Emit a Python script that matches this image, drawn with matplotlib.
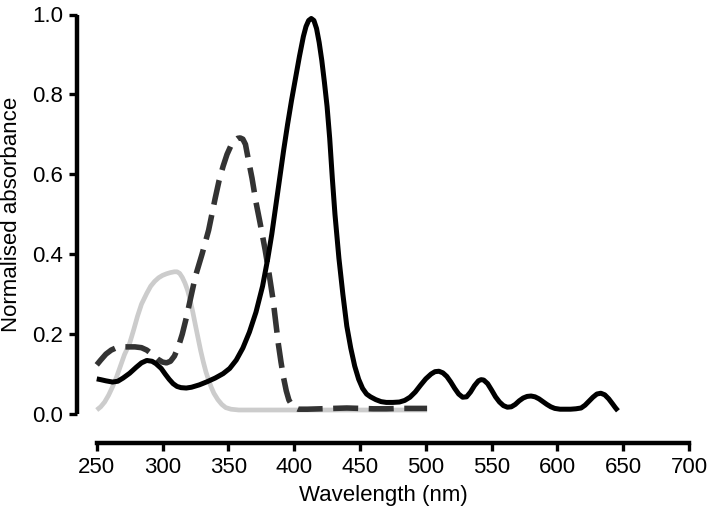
import numpy as np
import matplotlib
matplotlib.use("Agg")
from matplotlib import pyplot as plt

plt.rcParams['font.family'] = ['Liberation Sans', 'DejaVu Sans']

wl_black = [250, 253, 257, 262, 266, 270, 275, 280, 284, 288, 292, 295, 299, 302, 305,
            308, 311, 314, 318, 322, 328, 334, 340, 346, 351, 356, 361, 366, 371, 376,
            380, 383, 386, 389, 392, 395, 398, 401, 404, 407, 409, 411, 413, 415, 417,
            419, 421, 423, 425, 427, 429, 431, 434, 437, 440, 443, 446, 449, 452, 455,
            458, 462, 466, 470, 475, 480, 484, 488, 492, 496, 500, 504, 507, 510, 513,
            516, 519, 522, 525, 528, 531, 534, 537, 540, 542, 544, 547, 550, 553, 556,
            559, 562, 565, 568, 571, 574, 577, 580, 583, 586, 589, 592, 595, 598, 602,
            606, 610, 614, 618, 621, 624, 627, 630, 633, 636, 639, 642, 644, 646]
abs_black = [0.088, 0.086, 0.083, 0.080, 0.082, 0.090, 0.102, 0.117, 0.128, 0.134, 0.132,
             0.126, 0.114, 0.100, 0.087, 0.076, 0.069, 0.066, 0.065, 0.067, 0.073, 0.081,
             0.090, 0.101, 0.114, 0.135, 0.165, 0.205, 0.255, 0.320, 0.390, 0.450, 0.520,
             0.590, 0.660, 0.725, 0.785, 0.840, 0.895, 0.945, 0.970, 0.985, 0.990, 0.985,
             0.965, 0.930, 0.885, 0.830, 0.770, 0.690, 0.590, 0.500, 0.390, 0.300, 0.220,
             0.165, 0.120, 0.087, 0.064, 0.050, 0.043, 0.036, 0.031, 0.029, 0.029, 0.030,
             0.034, 0.042, 0.055, 0.072, 0.088, 0.100, 0.106, 0.107, 0.103, 0.094, 0.080,
             0.064, 0.050, 0.042, 0.043, 0.055, 0.071, 0.083, 0.086, 0.085, 0.076, 0.060,
             0.043, 0.030, 0.021, 0.017, 0.018, 0.024, 0.033, 0.040, 0.044, 0.045, 0.043,
             0.038, 0.031, 0.024, 0.018, 0.014, 0.012, 0.012, 0.012, 0.013, 0.015, 0.022,
             0.032, 0.042, 0.050, 0.052, 0.048, 0.038, 0.025, 0.016, 0.008]

wl_dash = [250, 253, 257, 261, 265, 269, 274, 279, 284, 288, 292, 296, 300, 303, 306,
           309, 312, 315, 318, 321, 325, 330, 335, 340, 343, 346, 349, 352, 355, 357,
           359, 361, 363, 365, 368, 371, 374, 378, 381, 384, 386, 388, 390, 392, 394,
           396, 399, 403, 410, 420, 430, 440, 450, 460, 470, 480, 490, 501]
abs_dash = [0.123, 0.135, 0.150, 0.160, 0.166, 0.168, 0.168, 0.168, 0.166, 0.160, 0.150,
            0.138, 0.130, 0.128, 0.132, 0.145, 0.168, 0.200, 0.240, 0.285, 0.345, 0.400,
            0.460, 0.540, 0.585, 0.620, 0.650, 0.672, 0.685, 0.690, 0.691, 0.688, 0.675,
            0.640, 0.590, 0.530, 0.480, 0.410, 0.350, 0.285, 0.230, 0.175, 0.130, 0.090,
            0.058, 0.035, 0.018, 0.012, 0.012, 0.013, 0.014, 0.015, 0.014, 0.013, 0.013,
            0.014, 0.014, 0.014]

wl_grey = [250, 253, 256, 259, 262, 265, 268, 271, 275, 278, 281, 284, 288, 291, 294,
           297, 300, 303, 306, 309, 311, 313, 315, 317, 319, 321, 323, 325, 327, 329,
           331, 333, 335, 337, 339, 342, 345, 348, 352, 358, 370, 400, 450, 501]
abs_grey = [0.010, 0.018, 0.030, 0.047, 0.068, 0.092, 0.120, 0.148, 0.177, 0.210, 0.245,
            0.275, 0.302, 0.320, 0.332, 0.341, 0.347, 0.351, 0.354, 0.356, 0.356, 0.352,
            0.342, 0.328, 0.310, 0.285, 0.255, 0.222, 0.190, 0.158, 0.130, 0.105, 0.085,
            0.067, 0.052, 0.036, 0.024, 0.016, 0.012, 0.010, 0.010, 0.010, 0.010, 0.010]

xticks = [250, 300, 350, 400, 450, 500, 550, 600, 650, 700]
yticks = [0.0, 0.2, 0.4, 0.6, 0.8, 1.0]

fig = plt.figure(figsize=(7.09, 5.14), dpi=100)
ax = fig.add_axes([77/709, 1-414/514, (689-77)/709, (414-14.5)/514])

ax.plot(wl_grey, abs_grey, color='#cccccc', lw=3.4, solid_joinstyle='round',
        solid_capstyle='butt', clip_on=False, zorder=2)
ax.plot(wl_dash, abs_dash, color='#333333', lw=4.0, dashes=(4.5, 1.9),
        dash_joinstyle='round', clip_on=False, zorder=3)
ax.plot(wl_black, abs_black, color='black', lw=3.6, solid_joinstyle='round',
        solid_capstyle='butt', clip_on=False, zorder=4)

ax.set_xlim(235, 700)
ax.set_ylim(0, 1.0)
ax.set_xticks(xticks)
ax.set_yticks(yticks)
ax.set_yticklabels(['%.1f' % v for v in yticks])

for s in ['top', 'right']:
    ax.spines[s].set_visible(False)
ax.spines['left'].set_linewidth(3.2)
ax.spines['bottom'].set_linewidth(3.2)
ax.spines['left'].set_bounds(0, 1.0)
ax.spines['bottom'].set_bounds(250, 700)
ax.spines['bottom'].set_position(('outward', 21))
ax.spines['left'].set_capstyle('butt')
ax.tick_params(direction='out', length=6, width=2.4, labelsize=16, pad=4)

ax.set_xlabel('Wavelength (nm)', fontsize=16, labelpad=5)
ax.set_ylabel('Normalised absorbance', fontsize=16, labelpad=7)

fig.savefig('out.png', dpi=100)
